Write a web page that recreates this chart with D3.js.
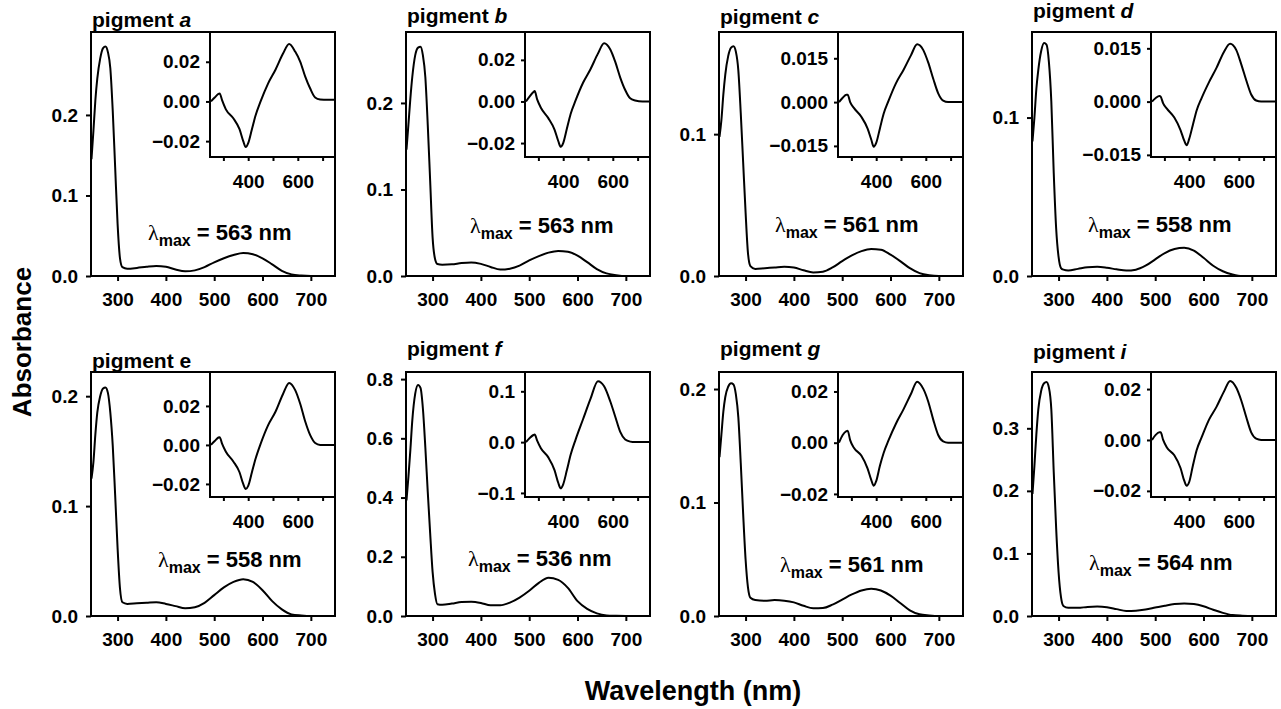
<!DOCTYPE html>
<html>
<head>
<meta charset="utf-8">
<script src="https://cdn.jsdelivr.net/npm/d3@7/dist/d3.min.js"></script>
<style>
body { margin: 0; background: #fff; }
text { font-family: Arial, "Liberation Sans", Helvetica, sans-serif; font-weight: bold; fill: #000; }
.tick text { font-size: 19px; }
.tick line { stroke: #000; stroke-width: 2px; }
</style>
</head>
<body>
<div id="vis"></div>
<script>
// panels, in reading order
var pigments = ["a", "b", "c", "d", "e", "f", "g", "i"];
var italicLetter = [true, true, true, true, false, true, true, true];
var lambdaMax = [563, 563, 561, 558, 558, 536, 561, 564];

// main absorbance spectra (nm -> absorbance)
var wavelengths = [246, 250, 254, 258, 264, 270, 275, 280, 285, 290, 295, 300, 305, 310, 320, 340, 360, 380, 400,
    420, 440, 460, 480, 500, 520, 540, 560, 580, 600, 620, 640, 660, 680, 700, 750];
var absA = [0.145, 0.180, 0.218, 0.245, 0.270, 0.283, 0.285, 0.278, 0.258, 0.205, 0.135, 0.065, 0.022, 0.011, 0.009, 0.010, 0.0115, 0.0125, 0.0115,
    0.008, 0.0058, 0.007, 0.011, 0.017, 0.022, 0.026, 0.0285, 0.027, 0.022, 0.0145, 0.0065, 0.002, 0.0005, 0.0, 0.0];
var absB = [0.146, 0.175, 0.205, 0.230, 0.255, 0.264, 0.265, 0.255, 0.230, 0.175, 0.110, 0.045, 0.020, 0.0138, 0.013, 0.0135, 0.015, 0.0157, 0.014,
    0.0105, 0.0075, 0.0085, 0.012, 0.018, 0.023, 0.027, 0.029, 0.028, 0.0235, 0.016, 0.008, 0.003, 0.001, 0.0, 0.0];
var absC = [0.098, 0.110, 0.128, 0.142, 0.155, 0.161, 0.162, 0.158, 0.145, 0.115, 0.080, 0.045, 0.016, 0.007, 0.005, 0.0055, 0.006, 0.0065, 0.006,
    0.004, 0.0025, 0.003, 0.006, 0.0105, 0.0145, 0.0175, 0.019, 0.0185, 0.015, 0.0105, 0.0055, 0.002, 0.0005, 0.0, 0.0];
var absD = [0.085, 0.100, 0.118, 0.130, 0.142, 0.147, 0.146, 0.135, 0.110, 0.065, 0.030, 0.012, 0.005, 0.004, 0.0035, 0.0045, 0.0055, 0.0058, 0.0052,
    0.0042, 0.0034, 0.004, 0.0065, 0.0105, 0.0145, 0.017, 0.0178, 0.016, 0.0115, 0.0065, 0.003, 0.001, 0.0, 0.0, 0.0];
var absE = [0.125, 0.140, 0.165, 0.185, 0.200, 0.207, 0.208, 0.203, 0.185, 0.155, 0.110, 0.062, 0.025, 0.0125, 0.011, 0.0115, 0.012, 0.0125, 0.011,
    0.009, 0.007, 0.008, 0.012, 0.019, 0.026, 0.031, 0.0335, 0.031, 0.0235, 0.0135, 0.006, 0.0015, 0.0005, 0.0, 0.0];
var absF = [0.39, 0.47, 0.56, 0.66, 0.75, 0.78, 0.77, 0.70, 0.57, 0.42, 0.28, 0.15, 0.075, 0.040, 0.038, 0.042, 0.047, 0.048, 0.044,
    0.036, 0.036, 0.045, 0.062, 0.085, 0.112, 0.129, 0.122, 0.095, 0.050, 0.024, 0.009, 0.002, 0.0005, 0.0, 0.0];
var absG = [0.140, 0.160, 0.180, 0.193, 0.202, 0.205, 0.204, 0.195, 0.175, 0.135, 0.090, 0.050, 0.025, 0.016, 0.014, 0.0135, 0.014, 0.0135, 0.012,
    0.009, 0.0068, 0.007, 0.010, 0.0145, 0.019, 0.0225, 0.024, 0.0225, 0.018, 0.0115, 0.005, 0.0015, 0.0005, 0.0, 0.0];
var absI = [0.195, 0.240, 0.290, 0.330, 0.360, 0.372, 0.374, 0.365, 0.330, 0.230, 0.140, 0.070, 0.030, 0.016, 0.013, 0.013, 0.0145, 0.015, 0.014,
    0.011, 0.008, 0.0085, 0.0105, 0.0135, 0.0165, 0.019, 0.020, 0.019, 0.0155, 0.010, 0.005, 0.0015, 0.0005, 0.0, 0.0];

// inset difference spectra
var insetWavelengths = [250, 265, 280, 285, 295, 310, 340, 365, 380, 390, 400, 415, 430, 450, 480, 510, 540, 565, 590,
    610, 630, 650, 670, 690, 720, 750];
var diffA = [0.0, 0.002, 0.0038, 0.004, 0.0005, -0.004, -0.0085, -0.014, -0.020, -0.023, -0.021, -0.014, -0.007, 0.0, 0.009, 0.016, 0.024, 0.029, 0.025,
    0.020, 0.0125, 0.0065, 0.002, 0.001, 0.0008, 0.0008];
var diffB = [0.0, 0.0025, 0.0045, 0.005, 0.001, -0.003, -0.008, -0.0135, -0.019, -0.0218, -0.020, -0.013, -0.006, 0.0005, 0.009, 0.0155, 0.023, 0.028, 0.025,
    0.019, 0.0115, 0.0055, 0.0015, 0.0005, 0.0, 0.0];
var diffC = [0.0, 0.0015, 0.0025, 0.0025, 0.0, -0.002, -0.005, -0.009, -0.0128, -0.0153, -0.014, -0.009, -0.004, 0.0005, 0.0065, 0.011, 0.016, 0.0198, 0.0178,
    0.0135, 0.008, 0.003, 0.0005, 0.0, 0.0, 0.0];
var diffD = [0.0, 0.001, 0.0016, 0.0014, -0.0005, -0.002, -0.0045, -0.008, -0.011, -0.0123, -0.0105, -0.0065, -0.0025, 0.001, 0.0055, 0.0095, 0.014, 0.0163, 0.0145,
    0.0105, 0.006, 0.002, 0.0003, 0.0, 0.0, 0.0];
var diffE = [0.0, 0.002, 0.0038, 0.004, 0.0005, -0.0035, -0.0085, -0.014, -0.020, -0.0226, -0.021, -0.014, -0.007, 0.0005, 0.010, 0.017, 0.026, 0.0318, 0.028,
    0.021, 0.012, 0.005, 0.001, 0.0, 0.0, 0.0];
var diffF = [0.0, 0.008, 0.014, 0.015, 0.003, -0.012, -0.030, -0.055, -0.080, -0.091, -0.083, -0.055, -0.025, 0.005, 0.045, 0.085, 0.120, 0.110, 0.080,
    0.050, 0.020, 0.005, 0.001, 0.0, 0.0, 0.0];
var diffG = [0.0, 0.003, 0.0045, 0.0047, 0.001, -0.002, -0.005, -0.010, -0.0145, -0.0168, -0.015, -0.009, -0.004, 0.001, 0.0075, 0.013, 0.019, 0.0238, 0.021,
    0.016, 0.009, 0.003, 0.0005, 0.0, 0.0, 0.0];
var diffI = [0.0, 0.002, 0.003, 0.003, 0.0, -0.003, -0.006, -0.011, -0.016, -0.018, -0.0165, -0.010, -0.004, 0.001, 0.008, 0.013, 0.019, 0.0232, 0.0205,
    0.0155, 0.009, 0.003, 0.0005, 0.0, 0.0, 0.0];

var absorbance = [absA, absB, absC, absD, absE, absF, absG, absI];
var difference = [diffA, diffB, diffC, diffD, diffE, diffF, diffG, diffI];

// axes
var xDomain = [245, 750];
var xTicks = [300, 400, 500, 600, 700];
var insetXDomain = [246, 750];
var insetXLabels = [400, 600];
var yMax = [0.303, 0.282, 0.172, 0.154, 0.222, 0.824, 0.215, 0.39];
var yTicks = [[0, 0.1, 0.2], [0, 0.1, 0.2], [0, 0.1], [0, 0.1], [0, 0.1, 0.2], [0, 0.2, 0.4, 0.6, 0.8], [0, 0.1, 0.2], [0, 0.1, 0.2, 0.3]];
var insetDomain = [[-0.028, 0.035], [-0.0267, 0.0334], [-0.0188, 0.024], [-0.0156, 0.0196],
    [-0.0267, 0.0374], [-0.108, 0.138], [-0.0212, 0.0276], [-0.0224, 0.0267]];
var insetTicks = [[-0.02, 0, 0.02], [-0.02, 0, 0.02], [-0.015, 0, 0.015], [-0.015, 0, 0.015],
    [-0.02, 0, 0.02], [-0.1, 0, 0.1], [-0.02, 0, 0.02], [-0.02, 0, 0.02]];
var insetFormat = [".2f", ".2f", ".3f", ".3f", ".2f", ".1f", ".2f", ".2f"];

// layout
var width = 1281, height = 709;
var colLeft = [91, 406, 719, 1032];
var rowTop = [32, 372];
var boxW = 244, boxH = 244;
var insetDx = 119, insetH = 125;
var titleY = [27, 23, 24, 18, 368, 356, 356, 359];
var labelDx = [57, 64, 56, 56, 67, 62, 61, 57];
var labelY = [240, 233, 232, 232, 567, 566, 572, 570];

var svg = d3.select("#vis")
    .append("svg")
    .attr("width", width)
    .attr("height", height)

pigments.forEach(function(p, k) {
    var left = colLeft[k % 4], top = rowTop[Math.floor(k / 4)];
    var g = svg.append("g").attr("transform", "translate(" + left + "," + top + ")")

    var x = d3.scaleLinear().domain(xDomain).range([0, boxW])
    var y = d3.scaleLinear().domain([0, yMax[k]]).range([boxH, 0])

    g.append("g")
        .attr("transform", "translate(0," + boxH + ")")
        .call(d3.axisBottom(x).tickValues(xTicks).tickSize(5).tickPadding(12))
        .call(function(a) { a.select(".domain").remove() })

    g.append("g")
        .call(d3.axisLeft(y).tickValues(yTicks[k]).tickFormat(d3.format(".1f")).tickSize(5).tickPadding(8))
        .call(function(a) { a.select(".domain").remove() })

    var pts = wavelengths.map(function(w, j) { return [w, absorbance[k][j]] })
    g.append("path")
        .datum(pts)
        .attr("fill", "none")
        .attr("stroke", "#000")
        .attr("stroke-width", 2)
        .attr("stroke-linejoin", "round")
        .attr("d", d3.line()
            .x(function(d) { return x(d[0]) })
            .y(function(d) { return y(d[1]) })
            .curve(d3.curveMonotoneX))

    g.append("rect")
        .attr("width", boxW)
        .attr("height", boxH)
        .attr("fill", "none")
        .attr("stroke", "#000")
        .attr("stroke-width", 2)

    // inset
    var iw = boxW - insetDx;
    var ig = g.append("g").attr("transform", "translate(" + insetDx + ",0)")
    var ix = d3.scaleLinear().domain(insetXDomain).range([0, iw])
    var iy = d3.scaleLinear().domain(insetDomain[k]).range([insetH, 0])

    ig.append("rect")
        .attr("width", iw)
        .attr("height", insetH)
        .attr("fill", "#fff")

    ig.append("g")
        .attr("transform", "translate(0," + insetH + ")")
        .call(d3.axisBottom(ix).tickValues(xTicks).tickSize(4).tickPadding(14)
            .tickFormat(function(d) { return insetXLabels.indexOf(d) >= 0 ? d : "" }))
        .call(function(a) { a.select(".domain").remove() })

    ig.append("g")
        .call(d3.axisLeft(iy).tickValues(insetTicks[k]).tickFormat(d3.format(insetFormat[k])).tickSize(4).tickPadding(6))
        .call(function(a) { a.select(".domain").remove() })

    var ipts = insetWavelengths.map(function(w, j) { return [w, difference[k][j]] })
    ig.append("path")
        .datum(ipts)
        .attr("fill", "none")
        .attr("stroke", "#000")
        .attr("stroke-width", 2)
        .attr("stroke-linejoin", "round")
        .attr("d", d3.line()
            .x(function(d) { return ix(d[0]) })
            .y(function(d) { return iy(d[1]) })
            .curve(d3.curveMonotoneX))

    ig.append("rect")
        .attr("width", iw)
        .attr("height", insetH)
        .attr("fill", "none")
        .attr("stroke", "#000")
        .attr("stroke-width", 2)

    // title
    var t = svg.append("text")
        .attr("x", left + 1)
        .attr("y", titleY[k])
        .style("font-size", "21px")
    t.append("tspan").text("pigment ")
    t.append("tspan").style("font-style", italicLetter[k] ? "italic" : "normal").text(p)

    // lambda max label
    var lab = svg.append("text")
        .attr("x", left + labelDx[k])
        .attr("y", labelY[k])
        .style("font-size", "22px")
    lab.append("tspan")
        .style("font-family", "'Liberation Serif', 'Times New Roman', serif")
        .style("font-weight", "normal")
        .text("λ")
    lab.append("tspan")
        .attr("dy", 6)
        .style("font-size", "16px")
        .text("max")
    lab.append("tspan")
        .attr("dy", -6)
        .text(" = " + lambdaMax[k] + " nm")
})

svg.append("text")
    .attr("transform", "translate(31,342) rotate(-90)")
    .attr("text-anchor", "middle")
    .style("font-size", "26px")
    .text("Absorbance")

svg.append("text")
    .attr("x", 693)
    .attr("y", 700)
    .attr("text-anchor", "middle")
    .style("font-size", "27px")
    .text("Wavelength (nm)")
</script>
</body>
</html>
